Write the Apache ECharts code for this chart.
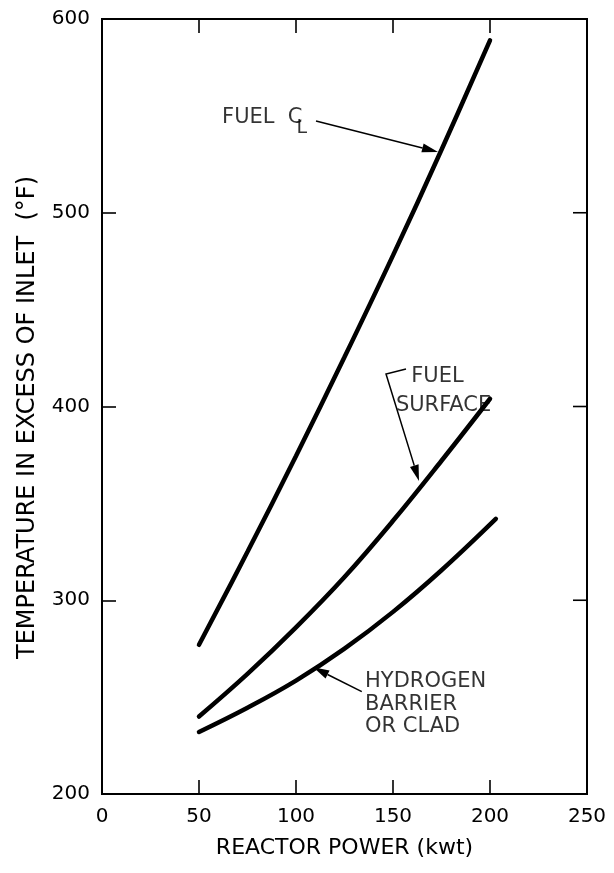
<!DOCTYPE html>
<html>
<head>
<meta charset="utf-8">
<script src="https://cdn.jsdelivr.net/npm/echarts@6/dist/echarts.min.js"></script>
<style>
html,body{margin:0;padding:0;background:#fff;}
#chart{width:614px;height:873px;}
</style>
</head>
<body>
<div id="chart"></div>
<script>
// ---- data ----
const xTicks = [0, 50, 100, 150, 200, 250];
const yTicks = [200, 300, 400, 500, 600];

const powerCL = [50, 75, 100, 125, 150, 175, 200];
const tempCL = [277, 325, 374.5, 425.5, 478, 532.5, 589];

const powerSurf = [50, 75, 100, 125, 150, 175, 200];
const tempSurf = [240, 262, 286, 312, 341, 372, 404];

const powerClad = [50, 75, 100, 125, 150, 175, 203];
const tempClad = [232, 244.5, 258.5, 275, 294, 315.5, 342];

// annotation texts (data coords)
const labelTexts = ['FUEL  C', 'FUEL', 'SURFACE', 'HYDROGEN', 'BARRIER', 'OR CLAD'];
const labelX = [61.9, 159.4, 151.5, 135.6, 135.6, 135.6];
const labelY = [549, 415.5, 400.5, 258, 246, 234.7];
// the "L" of the centre-line symbol, set below and right of the C
const subTexts = ['L'];
const subX = [100.3];
const subY = [543.5];

// leader arrows (data coords)
const arrowCL = [[110.3, 547.4], [173.2, 531.4]];
const arrowSurf = [[156.7, 419.4], [146.4, 416.8], [163.4, 361.6]];
const arrowClad = [[133.9, 252.8], [108.9, 265.4]];

const FONT = 'DejaVu Sans';
const pair = (xs, ys) => xs.map((x, i) => [x, ys[i]]);

const chart = echarts.init(document.getElementById('chart'));

function tick() {
  return { show: true, inside: true, length: 14, lineStyle: { color: '#000', width: 1.6 } };
}

chart.setOption({
  animation: false,
  backgroundColor: '#fff',
  grid: {
    left: 102, right: 27, top: 19, bottom: 79,
    show: true, borderColor: '#000', borderWidth: 2, backgroundColor: 'transparent'
  },
  xAxis: [
    {
      type: 'value', min: 0, max: 250, interval: 50, position: 'bottom',
      axisLine: { show: false }, splitLine: { show: false }, axisTick: tick(),
      name: 'REACTOR POWER (kwt)', nameLocation: 'middle', nameGap: 43,
      nameTextStyle: { fontFamily: FONT, fontSize: 22, color: '#000' },
      axisLabel: { show: true, margin: 13, fontFamily: FONT, fontSize: 20, color: '#000' }
    },
    {
      type: 'value', min: 0, max: 250, interval: 50, position: 'top',
      axisLine: { show: false }, splitLine: { show: false }, axisTick: tick(),
      axisLabel: { show: false }
    }
  ],
  yAxis: [
    {
      type: 'value', min: 200, max: 600, interval: 100, position: 'left',
      axisLine: { show: false }, splitLine: { show: false }, axisTick: tick(),
      name: 'TEMPERATURE IN EXCESS OF INLET  (\u00B0F)', nameLocation: 'middle', nameGap: 62,
      nameTextStyle: { fontFamily: FONT, fontSize: 24, color: '#000', padding: [0, 22, 0, 0] },
      axisLabel: { show: true, margin: 12, fontFamily: FONT, fontSize: 20, color: '#000' }
    }
  ],
  series: [
    {
      type: 'line', data: pair(powerCL, tempCL), smooth: 0.4, showSymbol: false,
      lineStyle: { color: '#000', width: 4.5, cap: 'round' }
    },
    {
      type: 'line', data: pair(powerSurf, tempSurf), smooth: 0.4, showSymbol: false,
      lineStyle: { color: '#000', width: 4.5, cap: 'round' }
    },
    {
      type: 'line', data: pair(powerClad, tempClad), smooth: 0.4, showSymbol: false,
      lineStyle: { color: '#000', width: 4.5, cap: 'round' }
    },
    {
      type: 'scatter', symbolSize: 0, silent: true,
      data: labelTexts.map((t, i) => [labelX[i], labelY[i], t]),
      label: {
        show: true, position: 'inside', align: 'left', verticalAlign: 'middle',
        formatter: p => p.data[2],
        fontFamily: FONT, fontSize: 21, color: '#000'
      }
    },
    {
      type: 'scatter', symbolSize: 0, silent: true,
      data: subTexts.map((t, i) => [subX[i], subY[i], t]),
      label: {
        show: true, position: 'inside', align: 'left', verticalAlign: 'middle',
        formatter: p => p.data[2],
        fontFamily: FONT, fontSize: 19, color: '#000'
      }
    }
  ]
});

// leader arrows drawn as annotations, positioned from data coords
function arrowGraphics(coords) {
  const pts = coords.map(c => chart.convertToPixel({ gridIndex: 0 }, c));
  const a = pts[pts.length - 2], b = pts[pts.length - 1];
  const dx = b[0] - a[0], dy = b[1] - a[1];
  const len = Math.hypot(dx, dy), ux = dx / len, uy = dy / len;
  const hl = 16, hw = 4.5;
  const base = [b[0] - ux * hl, b[1] - uy * hl];
  const line = pts.slice(0, -1).concat([base]);
  return [
    { type: 'polyline', shape: { points: line }, style: { stroke: '#000', lineWidth: 1.5, fill: null } },
    { type: 'polygon', shape: { points: [b, [base[0] - uy * hw, base[1] + ux * hw], [base[0] + uy * hw, base[1] - ux * hw]] },
      style: { fill: '#000' } }
  ];
}
// tick marks on the right frame edge, from the y tick values
function rightTicks() {
  return yTicks.slice(1, -1).map(v => {
    const p = chart.convertToPixel({ gridIndex: 0 }, [250, v]);
    return { type: 'line', shape: { x1: p[0], y1: p[1], x2: p[0] - 14, y2: p[1] },
      style: { stroke: '#000', lineWidth: 1.6 } };
  });
}
chart.setOption({
  graphic: [].concat(arrowGraphics(arrowCL), arrowGraphics(arrowSurf), arrowGraphics(arrowClad), rightTicks())
});
</script>
</body>
</html>
